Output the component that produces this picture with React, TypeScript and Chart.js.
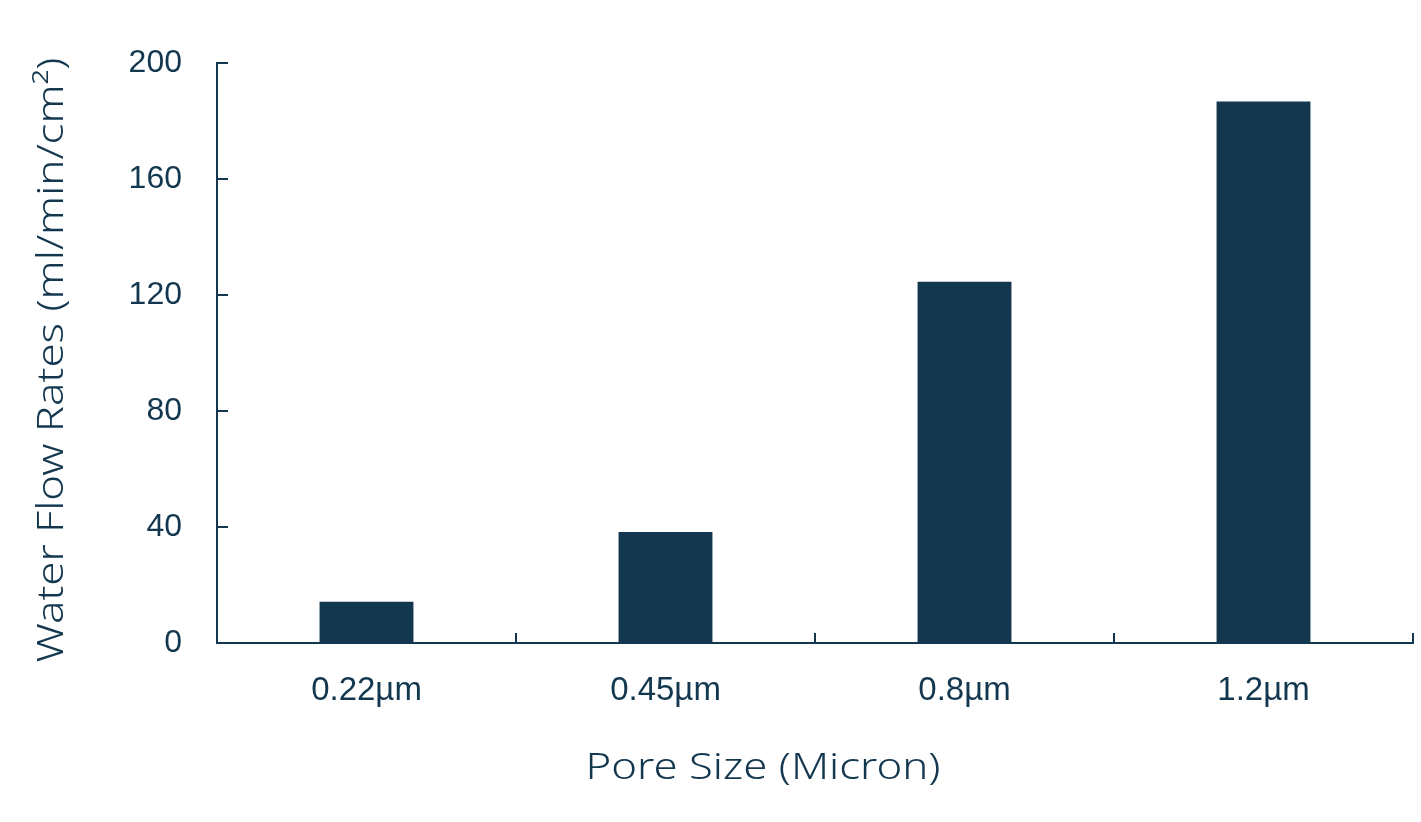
import React, { useEffect, useRef } from "react";
import { Chart, registerables } from "chart.js";

Chart.register(...registerables);

const categories = ["0.22µm", "0.45µm", "0.8µm", "1.2µm"];
const flowRates = [14.2, 38.3, 124.6, 186.7];
const yTicks = [0, 40, 80, 120, 160, 200];
const xTitle = "Pore Size (Micron)";
const yTitle = "Water Flow Rates (ml/min/cm²)";

const NAVY = "#12374f";

export default function App() {
  const ref = useRef<HTMLCanvasElement | null>(null);

  useEffect(() => {
    if (!ref.current) return;
    const tickPlugin = {
      id: "innerTicksAndTitles",
      afterDraw(chart: any) {
        const ctx = chart.ctx;
        const x = chart.scales.x;
        const y = chart.scales.y;
        ctx.save();
        ctx.strokeStyle = NAVY;
        ctx.lineWidth = 2;
        yTicks.forEach((v) => {
          const py = Math.round(y.getPixelForValue(v));
          ctx.beginPath();
          ctx.moveTo(x.left, py);
          ctx.lineTo(x.left + 11, py);
          ctx.stroke();
        });
        for (let i = 0; i < categories.length; i++) {
          const px =
            i < categories.length - 1
              ? (x.getPixelForValue(i) + x.getPixelForValue(i + 1)) / 2
              : x.right;
          ctx.beginPath();
          ctx.moveTo(Math.round(px), y.bottom);
          ctx.lineTo(Math.round(px), y.bottom - 10);
          ctx.stroke();
        }
        ctx.fillStyle = NAVY;
        ctx.font = "300 37px 'Noto Sans', sans-serif";
        ctx.textAlign = "center";
        ctx.textBaseline = "middle";
        const w = ctx.measureText(xTitle).width;
        const s = 355 / w;
        ctx.save();
        ctx.translate(763, 768);
        ctx.scale(s, 1);
        ctx.fillText(xTitle, 0, 0);
        ctx.restore();
        ctx.save();
        ctx.translate(52, 360);
        ctx.rotate(-Math.PI / 2);
        ctx.scale(s, 1);
        ctx.fillText(yTitle, 0, 0);
        ctx.restore();
        ctx.restore();
      },
    };

    const chart = new Chart(ref.current, {
      type: "bar",
      data: {
        labels: categories,
        datasets: [
          {
            data: flowRates,
            backgroundColor: NAVY,
            borderWidth: 0,
            categoryPercentage: 1,
            barPercentage: 0.314,
          },
        ],
      },
      options: {
        responsive: false,
        animation: false,
        layout: { padding: { top: 63, right: 8, left: 0, bottom: 0 } },
        plugins: { legend: { display: false }, tooltip: { enabled: false } },
        scales: {
          x: {
            offset: true,
            grid: { display: false, drawTicks: false },
            border: { display: true, color: NAVY, width: 2 },
            ticks: {
              color: NAVY,
              font: { family: "'Liberation Sans', Arial, sans-serif", size: 33 },
              padding: 28,
            },
            afterFit: (s: any) => {
              s.height = 179;
            },
          },
          y: {
            min: 0,
            max: 200,
            afterBuildTicks: (s: any) => {
              s.ticks = yTicks.map((v) => ({ value: v }));
            },
            grid: { display: false, drawTicks: false },
            border: { display: true, color: NAVY, width: 2 },
            ticks: {
              color: NAVY,
              font: { family: "'Liberation Sans', Arial, sans-serif", size: 32 },
              padding: 35,
            },
            afterFit: (s: any) => {
              s.width = 217;
            },
          },
        },
      },
      plugins: [tickPlugin],
    });
    return () => chart.destroy();
  }, []);

  return (
    <div style={{ position: "fixed", left: 0, top: 0, width: 1421, height: 822, background: "#fff" }}>
      <canvas ref={ref} width={1421} height={822} />
    </div>
  );
}
